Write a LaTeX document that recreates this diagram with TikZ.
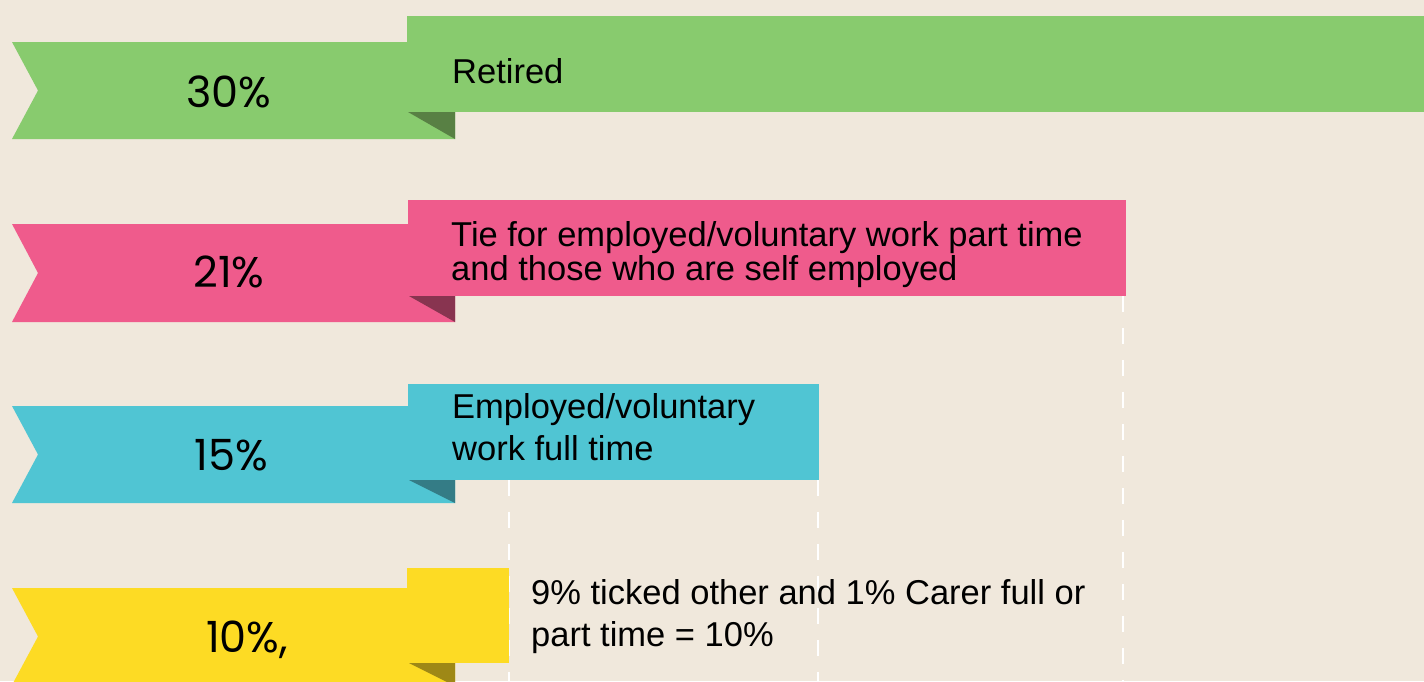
\documentclass[tikz,border=0pt]{standalone}
\usepackage{fontspec}
\setmainfont{Liberation Sans}
\newfontfamily\pctfont{Poppins}
\begin{document}
\begin{tikzpicture}[x=1pt,y=-1pt,
  pct/.style={anchor=base,inner sep=0pt,font=\pctfont\fontsize{43}{43}\selectfont},
  lbl/.style={anchor=base west,inner sep=0pt,font=\fontsize{34.5}{33}\selectfont},
  guide/.style={draw=white,line width=2pt,dash pattern=on 16pt off 16pt}]
\definecolor{bg}{RGB}{240,232,220}
\definecolor{gr}{RGB}{136,203,110}
\definecolor{grd}{RGB}{88,128,68}
\definecolor{pk}{RGB}{239,91,140}
\definecolor{pkd}{RGB}{136,52,80}
\definecolor{bl}{RGB}{80,197,211}
\definecolor{bld}{RGB}{52,124,134}
\definecolor{ye}{RGB}{253,219,36}
\definecolor{yed}{RGB}{158,136,22}
\fill[bg] (0,0) rectangle (1424,681);
\useasboundingbox (0,0) rectangle (1424,681);
% guides
\coordinate (g1t) at (509,480); \coordinate (g1b) at (509,681);
\coordinate (g2t) at (818,480); \coordinate (g2b) at (818,681);
\coordinate (g3t) at (1123,296); \coordinate (g3b) at (1123,681);
\draw[guide] (g1t) -- (g1b);
\draw[guide] (g2t) -- (g2b);
\draw[guide] (g3t) -- (g3b);
% green
\fill[gr] (12,42) -- (455,42) -- (455,139) -- (12,139) -- (38,90.5) -- cycle;
\fill[grd] (408,112) -- (455,112) -- (455,139) -- cycle;
\fill[gr] (407,16) rectangle (1424,112);
% pink
\fill[pk] (12,224) -- (455,224) -- (455,322) -- (12,322) -- (38,273) -- cycle;
\fill[pkd] (409,296) -- (455,296) -- (455,322) -- cycle;
\fill[pk] (408,200) rectangle (1126,296);
% blue
\fill[bl] (12,406) -- (455,406) -- (455,503) -- (12,503) -- (38,454.5) -- cycle;
\fill[bld] (409,480) -- (455,480) -- (455,503) -- cycle;
\fill[bl] (408,384) rectangle (819,480);
% yellow
\fill[ye] (12,588) -- (455,588) -- (455,685) -- (12,685) -- (38,636.5) -- cycle;
\fill[yed] (409,663) -- (455,663) -- (455,686) -- cycle;
\fill[ye] (407,568) rectangle (509,663);
% percentages
\node[pct] (p1) at (229,107) {30\%};
\node[pct] (p2) at (229,287) {21\%};
\node[pct] (p3) at (231,470) {15\%};
\node[pct] (p4) at (247,652) {10\%,};
% labels
\node[lbl] (t1) at (452,83) {Retired};
\node[lbl] (t2) at (451,246) {\begin{tabular}[t]{@{}l@{}}Tie for employed/voluntary work part time\\and those who are self employed\end{tabular}};
\node[lbl,font=\fontsize{34.5}{42}\selectfont] (t3) at (452,418) {\begin{tabular}[t]{@{}l@{}}Employed/voluntary\\work full time\end{tabular}};
\node[lbl,font=\fontsize{34.5}{42}\selectfont] (t4) at (531,604) {\begin{tabular}[t]{@{}l@{}}9\% ticked other and 1\% Carer full or\\part time = 10\%\end{tabular}};
\end{tikzpicture}
\end{document}
